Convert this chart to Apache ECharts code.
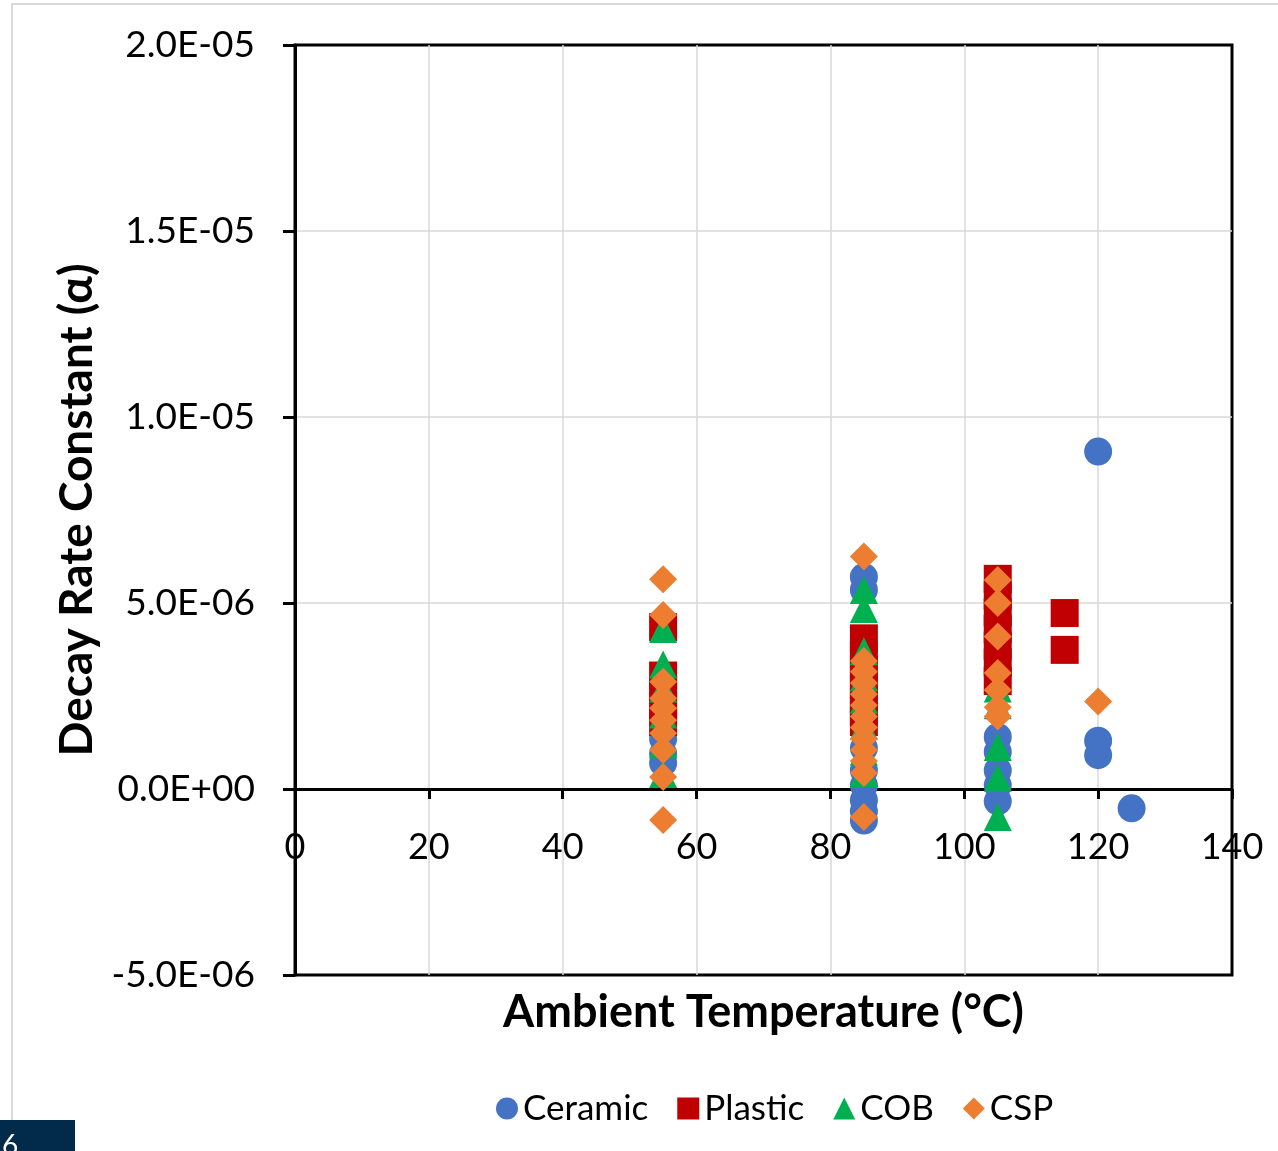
<!DOCTYPE html>
<html>
<head>
<meta charset="utf-8">
<script src="https://cdn.jsdelivr.net/npm/echarts@6/dist/echarts.min.js"></script>
<style>
  html, body { margin: 0; padding: 0; background: #fff; }
  #chart { width: 1278px; height: 1151px; }
</style>
</head>
<body>
<div id="chart"></div>
<script>
// values in units of 1e-6, [temperature, decay rate]
var ceramic = [
  [55, 1.35], [55, 0.95], [55, 0.7],
  [85, 5.7], [85, 5.35], [85, 1.1], [85, 0.5], [85, 0.1], [85, -0.3], [85, -0.6], [85, -0.85],
  [105, 1.4], [105, 1.0], [105, 0.5], [105, 0.1], [105, -0.33],
  [120, 9.07], [120, 1.3], [120, 0.91],
  [125, -0.52]
];
var plastic = [
  [55, 4.35], [55, 3.05], [55, 2.65], [55, 2.25], [55, 1.8],
  [85, 4.05], [85, 3.6], [85, 3.2], [85, 2.8], [85, 2.4], [85, 2.1], [85, 1.8],
  [105, 5.65], [105, 5.2], [105, 4.75], [105, 4.3], [105, 3.85], [105, 3.4], [105, 2.9],
  [115, 4.73], [115, 3.74]
];
var cob = [
  [55, 4.3], [55, 3.35], [55, 2.7], [55, 2.0], [55, 1.2], [55, 0.4],
  [85, 5.35], [85, 4.84], [85, 3.7], [85, 3.0], [85, 2.4], [85, 1.7], [85, 1.0], [85, 0.43],
  [105, 2.7], [105, 2.25], [105, 1.13], [105, 0.3], [105, -0.75]
];
var csp = [
  [55, 5.64], [55, 4.68], [55, 2.88], [55, 2.44], [55, 2.17], [55, 1.85], [55, 1.5], [55, 1.05], [55, 0.32], [55, -0.83],
  [85, 6.25], [85, 3.44], [85, 3.15], [85, 2.85], [85, 2.55], [85, 2.25], [85, 1.95], [85, 1.65], [85, 1.35], [85, 1.05], [85, 0.75], [85, 0.43], [85, -0.75],
  [105, 5.62], [105, 5.0], [105, 4.1], [105, 3.12], [105, 2.66], [105, 2.2], [105, 1.95],
  [120, 2.35]
];
var seriesNames = ['Ceramic', 'Plastic', 'COB', 'CSP'];
var seriesColors = ['#4472C4', '#C00000', '#00B050', '#ED7D31'];
var seriesSymbols = ['circle', 'rect', 'triangle', 'diamond'];

function scale(arr) {
  return arr.map(function (p) { return [p[0], p[1] * 1e-6]; });
}
//格式化成 2.0E-05
function sci(v) {
  if (Math.abs(v) < 1e-12) return '0.0E+00';
  var s = v.toExponential(1).split('e');
  var sign = s[1].charAt(0);
  var d = s[1].slice(1);
  if (d.length < 2) d = '0' + d;
  return s[0] + 'E' + sign + d;
}

var font = 'Lato, "Open Sans", sans-serif';
var allData = [ceramic, plastic, cob, csp];
var series = allData.map(function (d, i) {
  return {
    name: seriesNames[i],
    type: 'scatter',
    symbol: seriesSymbols[i],
    symbolSize: 28,
    itemStyle: { color: seriesColors[i], opacity: 1 },
    data: scale(d),
    z: 2 + i
  };
});

var myChart = echarts.init(document.getElementById('chart'));
myChart.setOption({
  animation: false,
  backgroundColor: '#fff',
  graphic: [
    { type: 'rect', shape: { x: 12, y: 4, width: 1400, height: 1300 },
      style: { fill: 'none', stroke: '#d9d9d9', lineWidth: 2 }, z: -10 },
    { type: 'rect', shape: { x: 0, y: 1120, width: 75, height: 31 },
      style: { fill: '#022a4a' }, z: 10 },
    { type: 'text', x: 2, y: 1132,
      style: { text: '6', fill: '#fff', font: '28px ' + font }, z: 11 }
  ],
  grid: {
    left: 295, right: 46, top: 45, bottom: 176,
    show: true, borderColor: '#000', borderWidth: 3,
    outerBoundsMode: 'none'
  },
  legend: {
    top: 1086,
    left: 491,
    itemGap: 29,
    itemWidth: 22,
    itemHeight: 22,
    textStyle: { fontSize: 35, fontFamily: font, color: '#000' },
    data: seriesNames.map(function (n, i) { return { name: n, icon: seriesSymbols[i] }; })
  },
  xAxis: [
    {
      type: 'value',
      min: 0, max: 140, interval: 20,
      name: 'Ambient Temperature (°C)',
      nameLocation: 'middle',
      nameGap: 15,
      nameTextStyle: { fontSize: 45, fontWeight: 'bold', fontFamily: font, color: '#000' },
      axisLine: { show: true, onZero: true, lineStyle: { color: '#000', width: 3 } },
      axisTick: { show: true, length: 10, lineStyle: { color: '#000', width: 3 } },
      axisLabel: { show: false },
      splitLine: { show: true, showMinLine: false, showMaxLine: false, lineStyle: { color: '#d9d9d9', width: 1.5 } }
    },
    {
      // 数字标签跟随零线
      type: 'value',
      position: 'bottom',
      offset: -186,
      min: 0, max: 140, interval: 20,
      axisLine: { show: false },
      axisTick: { show: false },
      splitLine: { show: false },
      axisLabel: { fontSize: 36, fontFamily: font, color: '#000', margin: 40 }
    }
  ],
  yAxis: {
    type: 'value',
    min: -5e-6, max: 2e-5, interval: 5e-6,
    name: 'Decay Rate Constant (α)',
    nameLocation: 'middle',
    nameGap: 194,
    nameTextStyle: { fontSize: 46, fontWeight: 'bold', fontFamily: font, color: '#000' },
    axisLine: { show: true, lineStyle: { color: '#000', width: 3 } },
    axisTick: { show: true, length: 12, lineStyle: { color: '#000', width: 3 } },
    axisLabel: { fontSize: 37, fontFamily: font, color: '#000', margin: 40, formatter: sci },
    splitLine: { show: true, showMinLine: false, showMaxLine: false, lineStyle: { color: '#d9d9d9', width: 1.5 } }
  },
  series: series
});
window.addEventListener('resize', function () { myChart.resize(); });
</script>
</body>
</html>
